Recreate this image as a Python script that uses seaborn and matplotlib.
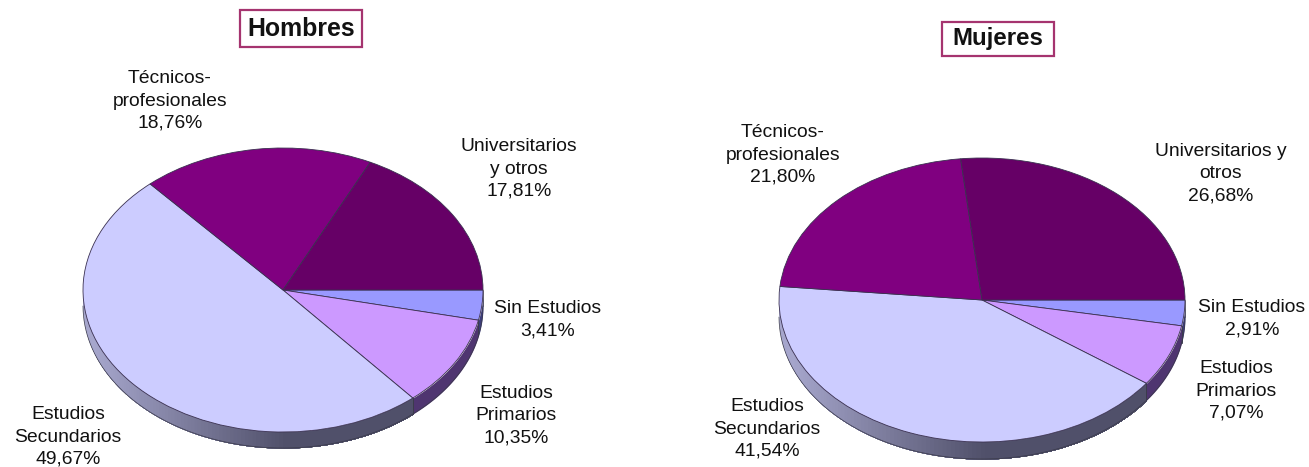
import numpy as np
import matplotlib.pyplot as plt
from matplotlib.colors import to_rgb
from matplotlib.patches import Rectangle
import seaborn as sns

W, H = 1309, 467

# datos
estudios = ['Sin Estudios', 'Estudios Primarios', 'Estudios Secundarios',
            'Técnicos-profesionales', 'Universitarios y otros']
hombres = [3.41, 10.35, 49.67, 18.76, 17.81]
mujeres = [2.91, 7.07, 41.54, 21.80, 26.68]

etiquetas_h = ['Sin Estudios', 'Estudios\nPrimarios', 'Estudios\nSecundarios',
               'Técnicos-\nprofesionales', 'Universitarios\ny otros']
etiquetas_m = ['Sin Estudios', 'Estudios\nPrimarios', 'Estudios\nSecundarios',
               'Técnicos-\nprofesionales', 'Universitarios y\notros']

colores = sns.color_palette(['#9999FF', '#CC99FF', '#CCCCFF', '#800080', '#660066'])
lados = ['#3d3d7a', '#4f3570', None, '#400040', '#330033']

sns.set_theme(style='white')
plt.rcParams['font.family'] = ['Liberation Sans', 'DejaVu Sans']

fig = plt.figure(figsize=(W / 100, H / 100), dpi=100)


def px(x, y):
    return x / W, 1 - y / H


def tarta(valores, izq, der, arriba, abajo, prof):
    # ejes puestos en pixeles: la elipse ocupa todo el ancho
    ry = (abajo - arriba) / 2
    alto = abajo + prof - arriba
    ax = fig.add_axes([izq / W, 1 - (arriba + alto) / H, (der - izq) / W, alto / H])
    d = prof / ry

    # lateral 3D, solo la mitad inferior
    fin = 360 - np.cumsum(valores) * 3.6
    ini = np.r_[360, fin[:-1]]
    for i in range(len(valores)):
        a0, a1 = max(fin[i], 180), ini[i]
        if a1 <= 180:
            continue
        t = np.radians(np.linspace(a0, a1, 200))
        if lados[i] is not None:
            ax.fill_between(np.cos(t), np.sin(t), np.sin(t) - d, color=lados[i], lw=0, zorder=1)
        else:
            # degradado: cada tira tapa hasta el final para que no se vean juntas
            bordes = np.radians(np.linspace(a0, a1, 120))
            for b0 in bordes[:-1]:
                tt = np.linspace(b0, np.radians(a1), 120)
                f = np.clip((np.cos(b0) + 0.95) / 0.95, 0, 1)
                c = (1 - f) * np.array(to_rgb('#a6a6cc')) + f * np.array(to_rgb('#50506a'))
                ax.fill_between(np.cos(tt), np.sin(tt), np.sin(tt) - d, color=c, lw=0, zorder=1)
        ax.plot(np.cos(t), np.sin(t) - d, color='#3a3a4a', lw=0.5, zorder=2)
        for a in (a0, a1):
            if a > 180:
                r = np.radians(a)
                ax.plot([np.cos(r)] * 2, [np.sin(r), np.sin(r) - d], color='#3a3a4a', lw=0.5, zorder=2)

    wedges, _ = ax.pie(valores, colors=colores, startangle=0, counterclock=False, radius=1,
                       wedgeprops={'edgecolor': '#3a3050', 'linewidth': 0.6})
    for w in wedges:
        w.set_zorder(3)
    ax.set_aspect('auto')
    ax.set_xlim(-1, 1)
    ax.set_ylim(-1 - d, 1)
    for a in ax.get_children():
        a.set_clip_on(False)
    return ax


def rotulos(valores, etiquetas, posiciones):
    for v, e, (x, y) in zip(valores, etiquetas, posiciones):
        s = e + '\n' + f'{v:.2f}'.replace('.', ',') + '%'
        fx, fy = px(x, y)
        fig.text(fx, fy, s, ha='center', va='center', fontsize=13.9, color='#111111',
                 linespacing=1.42, multialignment='center')


def titulo(txt, x0, x1, y0, y1, size):
    fx, fy = px(x0, y1)
    fig.add_artist(Rectangle((fx, fy), (x1 - x0) / W, (y1 - y0) / H, transform=fig.transFigure,
                             facecolor='white', edgecolor='#A5346F', linewidth=1.6))
    cx, cy = px((x0 + x1) / 2, (y0 + y1) / 2)
    fig.text(cx, cy, txt, ha='center', va='center', fontsize=size, fontweight='bold', color='#111111')


tarta(hombres, 83, 483, 148, 432, 16)
tarta(mujeres, 779, 1185, 158, 442, 17)

rotulos(hombres, etiquetas_h, [(548, 320), (516, 416), (68, 437), (170, 101), (519, 169)])
rotulos(mujeres, etiquetas_m, [(1252, 319), (1236, 391), (767, 429), (783, 155), (1221, 174)])

titulo('Hombres', 240, 362, 10, 47, 17.9)
titulo('Mujeres', 942, 1054, 22, 56, 17.3)

fig.savefig('out.png', dpi=100, facecolor='white')
